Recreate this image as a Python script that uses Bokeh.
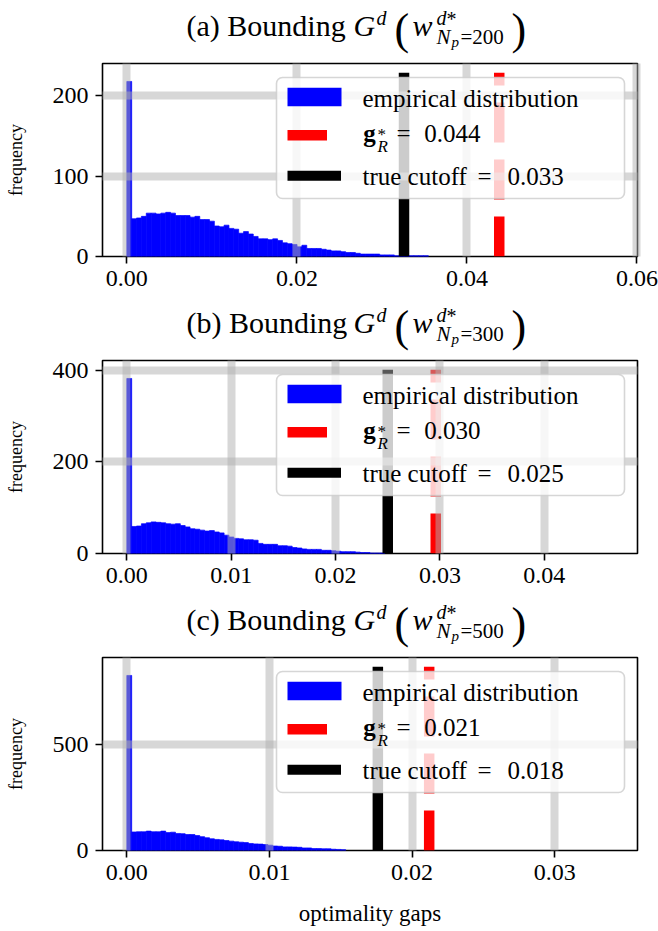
import numpy as np
from bokeh.plotting import figure
from bokeh.layouts import column
from bokeh.models import Range1d, FixedTicker, PrintfTickFormatter, BoxAnnotation
from bokeh.embed import file_html
from bokeh.resources import INLINE
from bokeh.core.properties import value

FONT = "Liberation Serif"

# ---------------- data ----------------
n_bins = 100
panel_tags = ["(a)", "(b)", "(c)"]
n_points = ["200", "300", "500"]

gap_max_a = 0.0572
counts_a = [218, 47, 48, 50, 54, 54, 53, 54, 55, 54, 51, 51, 51, 49, 50, 46, 46, 44, 38, 37,
            39, 35, 34, 29, 31, 28, 25, 22, 22, 21, 22, 20, 17, 16, 15, 12, 14, 10, 10, 10,
            9, 8, 7, 7, 6, 5, 5, 4, 3, 3, 3, 3, 2, 2, 2, 1, 1, 1, 1, 1, 1, 1]
cutoff_a = 0.0326
g_r_a = 0.0438
cutoff_label_a = "0.033"
g_r_label_a = "0.044"
xticks_a = [0.0, 0.02, 0.04, 0.06]
yticks_a = [0, 100, 200]

gap_max_b = 0.0466
counts_b = [382, 59, 60, 65, 67, 69, 68, 67, 65, 64, 65, 61, 58, 54, 53, 51, 49, 50, 47, 45,
            40, 36, 33, 32, 30, 30, 29, 22, 20, 20, 20, 17, 17, 16, 13, 12, 10, 9, 9, 9,
            7, 7, 6, 5, 4, 4, 4, 3, 2, 2, 1, 1, 1]
cutoff_b = 0.0250
g_r_b = 0.0296
cutoff_label_b = "0.025"
g_r_label_b = "0.030"
xticks_b = [0.0, 0.01, 0.02, 0.03, 0.04]
yticks_b = [0, 200, 400]

gap_max_c = 0.0341
counts_c = [822, 87, 88, 88, 91, 88, 88, 91, 84, 86, 80, 79, 75, 75, 70, 65, 60, 55, 52, 50,
            47, 44, 41, 39, 37, 33, 31, 30, 28, 25, 21, 20, 17, 17, 16, 15, 12, 12, 9, 9,
            8, 8, 6, 5, 4]
cutoff_c = 0.0176
g_r_c = 0.0212
cutoff_label_c = "0.018"
g_r_label_c = "0.021"
xticks_c = [0.0, 0.01, 0.02, 0.03]
yticks_c = [0, 500]

legend_labels = ["empirical distribution", "true cutoff"]
x_label = "optimality gaps"
y_label = "frequency"

# ---------------- layout constants ----------------
W = 658
LB = 102
RB = 21
FW = W - LB - RB
FH = 193
TP = 5          # white strip above each panel frame
TXT_FIX = 0.33  # empirical baseline correction (fraction of font size)


def txt(p, x, y, s, size, style="normal", level="overlay", unit=1.0):
    p.text(x=[x], y=[y + TXT_FIX * size * unit], text=[s], text_font=value(FONT),
           text_font_size=f"{size}px", text_font_style=style, text_baseline="alphabetic",
           text_align="left", text_line_height=1.0, text_color="black", level=level)


def title_fig(tag, npts, height):
    t = figure(width=W, height=height, x_range=Range1d(LB, W - RB), y_range=Range1d(0, height),
               output_backend="svg", toolbar_location=None, x_axis_location=None,
               y_axis_location=None, min_border_left=LB, min_border_right=RB,
               min_border_top=0, min_border_bottom=0)
    t.outline_line_color = None
    t.xgrid.visible = False
    t.ygrid.visible = False
    # (text, x in px, baseline height above the panel frame, size px, style)
    pieces = [
        (tag + " Bounding", 186, 28, 30, "normal"),
        ("G", 353, 28, 30, "italic"),
        ("d", 376, 39, 20, "italic"),
        ("(", 394, 19, 44, "normal"),
        ("w", 412, 28, 30, "italic"),
        ("d", 436, 39, 20, "italic"),
        ("*", 446, 38, 20, "normal"),
        ("N", 436, 20, 21, "italic"),
        ("p", 451, 17, 15, "italic"),
        ("=" + npts, 460, 20, 21, "normal"),
        (")", 511, 19, 44, "normal"),
    ]
    for s, x, y, size, style in pieces:
        txt(t, x, y - TP, s, size, style, level="glyph")
    return t


def panel(counts, gmax, cut, gr, cut_lbl, gr_lbl, xticks, yticks, xfmt, bottom, xlabel=None):
    n = len(counts)
    bw = gmax / n_bins
    lefts = [i * bw for i in range(n)]
    rights = [(i + 1) * bw for i in range(n)]
    line_top = 1.05 * max(counts)
    y_end = 1.05 * line_top
    x_start, x_end = -0.05 * gmax, 1.05 * gmax
    p = figure(width=W, height=TP + FH + bottom, x_range=Range1d(x_start, x_end),
               y_range=Range1d(0, y_end), output_backend="svg", toolbar_location=None,
               min_border_left=LB, min_border_right=RB, min_border_top=TP,
               min_border_bottom=bottom)
    p.background_fill_color = "white"
    p.border_fill_color = "white"
    p.outline_line_color = "black"
    p.outline_line_width = 1.6

    p.quad(left=lefts, right=rights, bottom=0, top=counts, fill_color="blue",
           line_color="blue", line_width=0.7)
    p.segment(x0=[cut], y0=[0], x1=[cut], y1=[line_top], line_color="black", line_width=10.5)
    p.segment(x0=[gr], y0=[0], x1=[gr], y1=[line_top], line_color="red", line_width=10.5,
              line_dash="40 17")

    p.xaxis.ticker = FixedTicker(ticks=xticks)
    p.yaxis.ticker = FixedTicker(ticks=yticks)
    p.xaxis.formatter = PrintfTickFormatter(format=xfmt)
    p.yaxis.formatter = PrintfTickFormatter(format="%d")
    for ax in (p.xaxis, p.yaxis):
        ax.axis_line_color = None
        ax.major_tick_line_color = "black"
        ax.major_tick_line_width = 1.6
        ax.major_tick_out = 7
        ax.major_tick_in = 0
        ax.minor_tick_line_color = None
        ax.major_label_standoff = 7
        ax.major_label_text_font = FONT
        ax.major_label_text_font_size = "24px"
        ax.major_label_text_color = "black"
        ax.axis_label_text_font = FONT
        ax.axis_label_text_font_style = "normal"
        ax.axis_label_text_color = "black"
    p.yaxis.axis_label = y_label
    p.yaxis.axis_label_text_font_size = "18px"
    p.yaxis.axis_label_standoff = 24
    if xlabel:
        p.xaxis.axis_label = xlabel
        p.xaxis.axis_label_text_font_size = "23px"
        p.xaxis.axis_label_standoff = 18

    for g in (p.xgrid, p.ygrid):
        g.grid_line_color = "#b0b0b0"
        g.grid_line_alpha = 0.5
        g.grid_line_width = 8
        g.level = "guide"

    # legend (pixel offsets from frame top-right)
    sx = (x_end - x_start) / FW
    sy = y_end / FH

    def X(off_r):
        return x_end - off_r * sx

    def Y(off_t):
        return y_end - off_t * sy

    box = BoxAnnotation(left=X(361), right=X(13), top=Y(14), bottom=Y(135),
                        fill_color="white", fill_alpha=0.8, line_color="#cccccc",
                        line_alpha=0.8, line_width=1.6, border_radius=6)
    p.add_layout(box)
    p.quad(left=[X(350)], right=[X(296)], top=[Y(24.3)], bottom=[Y(42.7)],
           fill_color="blue", line_color=None, level="overlay")
    p.segment(x0=[X(350)], y0=[Y(71.7)], x1=[X(310.5)], y1=[Y(71.7)], line_color="red",
              line_width=10.5, level="overlay")
    p.segment(x0=[X(350)], y0=[Y(112.3)], x1=[X(296.5)], y1=[Y(112.3)], line_color="black",
              line_width=10, level="overlay")
    txt(p, X(275), Y(43.7), legend_labels[0], 25, unit=sy)
    txt(p, X(274.3), Y(78.7), "g", 25, "bold", unit=sy)
    txt(p, X(260), Y(76.6), "*", 17, unit=sy)
    txt(p, X(260), Y(88.7), "R", 17, "italic", unit=sy)
    txt(p, X(241), Y(78.7), "=", 25, unit=sy)
    txt(p, X(213.3), Y(78.7), gr_lbl, 25, unit=sy)
    txt(p, X(275), Y(121), legend_labels[1], 25, unit=sy)
    txt(p, X(160), Y(121), "=", 25, unit=sy)
    txt(p, X(130), Y(121), cut_lbl, 25, unit=sy)
    return p


t_a = title_fig(panel_tags[0], n_points[0], 63 - TP)
p_a = panel(counts_a, gap_max_a, cutoff_a, g_r_a, cutoff_label_a, g_r_label_a,
            xticks_a, yticks_a, "%.2f", 45)
t_b = title_fig(panel_tags[1], n_points[1], 59 - TP)
p_b = panel(counts_b, gap_max_b, cutoff_b, g_r_b, cutoff_label_b, g_r_label_b,
            xticks_b, yticks_b, "%.2f", 45)
t_c = title_fig(panel_tags[2], n_points[2], 59 - TP)
p_c = panel(counts_c, gap_max_c, cutoff_c, g_r_c, cutoff_label_c, g_r_label_c,
            xticks_c, yticks_c, "%.2f", 81, xlabel=x_label)

layout = column(t_a, p_a, t_b, p_b, t_c, p_c, spacing=0)
open("out.html", "w").write(file_html(layout, INLINE))
